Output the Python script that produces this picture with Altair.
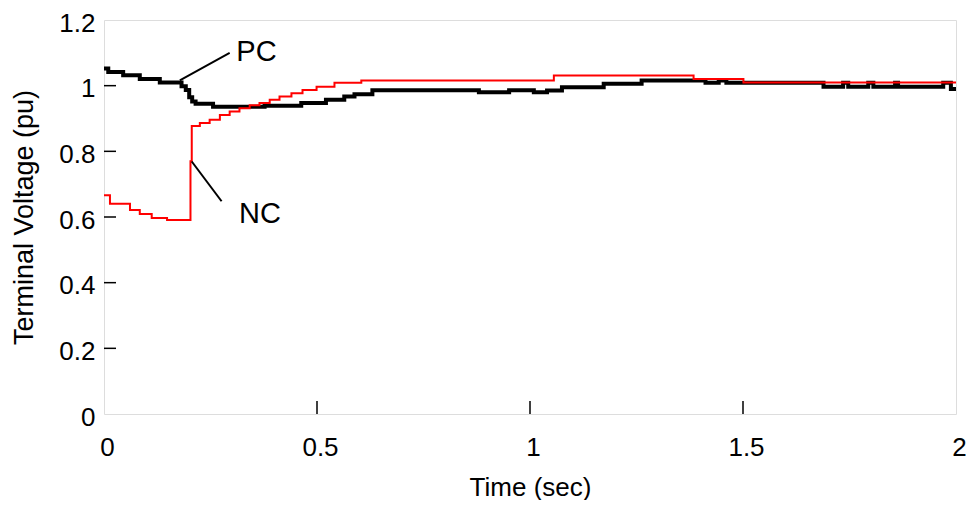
import altair as alt
import pandas as pd

# PC terminal voltage, step data (time sec, voltage pu)
pc_t = [0.0, 0.010, 0.045, 0.084, 0.131, 0.182, 0.192, 0.200, 0.207, 0.215, 0.256,
        0.377, 0.463, 0.521, 0.564, 0.588, 0.630, 0.880, 0.951, 1.009, 1.040, 1.075,
        1.173, 1.262, 1.412, 1.443, 1.461, 1.689, 1.735, 1.747, 1.794, 1.806, 1.857,
        1.864, 1.970, 1.988, 2.0]
pc_v = [1.052, 1.042, 1.032, 1.020, 1.010, 0.998, 0.987, 0.965, 0.952, 0.945, 0.936,
        0.939, 0.947, 0.957, 0.967, 0.974, 0.986, 0.980, 0.986, 0.980, 0.985, 0.995,
        1.006, 1.016, 1.009, 1.016, 1.009, 0.997, 1.009, 0.997, 1.009, 0.997, 1.009,
        0.997, 1.009, 0.990, 0.990]

# NC terminal voltage
nc_t = [0.0, 0.014, 0.061, 0.084, 0.112, 0.148, 0.200, 0.203, 0.206, 0.225, 0.248,
        0.272, 0.295, 0.318, 0.342, 0.365, 0.389, 0.412, 0.440, 0.466, 0.499, 0.541,
        0.604, 1.056, 1.384, 1.501, 2.0]
nc_v = [0.666, 0.640, 0.621, 0.609, 0.597, 0.591, 0.591, 0.770, 0.877, 0.886, 0.896,
        0.911, 0.921, 0.931, 0.940, 0.947, 0.957, 0.967, 0.977, 0.987, 0.997, 1.009,
        1.016, 1.031, 1.020, 1.010, 1.010]

x_ticks = [0, 0.5, 1, 1.5, 2]
y_ticks = [0, 0.2, 0.4, 0.6, 0.8, 1.0, 1.2]
x_inner_ticks = [0.5, 1, 1.5]
y_inner_ticks = [0.2, 0.4, 0.6, 0.8, 1.0]

# annotation labels and leader lines
ann_text = ["PC", "NC"]
ann_tx = [0.358, 0.366]
ann_tv = [1.103, 0.609]
lead_t = [0.178, 0.206]
lead_v = [1.016, 0.769]
lead_t2 = [0.295, 0.276]
lead_v2 = [1.100, 0.648]

FONT = "Liberation Sans Narrow, Arial Narrow, Liberation Sans, Arial"
W, H = 852, 394

pc = pd.DataFrame({"t": pc_t, "v": pc_v})
nc = pd.DataFrame({"t": nc_t, "v": nc_v})
ann = pd.DataFrame({"t": ann_tx, "v": ann_tv, "label": ann_text})
lead = pd.DataFrame({"t": lead_t, "v": lead_v, "t2": lead_t2, "v2": lead_v2})
xt = pd.DataFrame({"t": x_inner_ticks})
yt = pd.DataFrame({"v": y_inner_ticks})

xscale = alt.Scale(domain=[0, 2], nice=False, zero=False)
yscale = alt.Scale(domain=[0, 1.2], nice=False, zero=False)

xenc = alt.X("t:Q", scale=xscale, title="Time (sec)",
             axis=alt.Axis(values=x_ticks, format="~g", grid=False, ticks=False,
                           domain=False, labelFont=FONT, labelFontSize=26,
                           labelColor="black", labelPadding=20, labelOffset=3,
                           labelFlush=False, titleFont=FONT,
                           titleFontSize=26, titleFontWeight="normal",
                           titleColor="black", titlePadding=14))
yenc = alt.Y("v:Q", scale=yscale, title="Terminal Voltage (pu)",
             axis=alt.Axis(values=y_ticks, format="~g", grid=False, ticks=False,
                           domain=False, labelFont=FONT, labelFontSize=26,
                           labelColor="black", labelPadding=9, labelOffset=3,
                           labelFlush=False,
                           titleFont="Liberation Sans, Arial", titleFontSize=27,
                           titleFontWeight="normal", titleColor="black",
                           titlePadding=20))

pc_line = alt.Chart(pc).mark_line(interpolate="step-after", color="black",
                                  strokeWidth=4).encode(x=xenc, y=yenc)
nc_line = alt.Chart(nc).mark_line(interpolate="step-after", color="#ff0000",
                                  strokeWidth=2).encode(x="t:Q", y="v:Q")

xtick_marks = alt.Chart(xt).mark_rule(color="black", strokeWidth=1.5).encode(
    x="t:Q", y=alt.value(H), y2=alt.value(H - 13))
ytick_marks = alt.Chart(yt).mark_rule(color="black", strokeWidth=1.5).encode(
    y="v:Q", x=alt.value(0), x2=alt.value(12))

lead_marks = alt.Chart(lead).mark_rule(color="black", strokeWidth=2).encode(
    x="t:Q", y="v:Q", x2="t2:Q", y2="v2:Q")
ann_marks = alt.Chart(ann).mark_text(font=FONT, fontSize=29, color="black",
                                     align="center", baseline="middle").encode(
    x="t:Q", y="v:Q", text="label:N")

chart = alt.layer(pc_line, nc_line, xtick_marks, ytick_marks, lead_marks, ann_marks).properties(
    width=W, height=H,
    autosize=alt.AutoSizeParams(type="none"),
    padding={"left": 96, "top": 12, "right": 10, "bottom": 86},
).configure_view(stroke="black", strokeWidth=2).configure(background="white")

chart.save("out.html", embed_options={"renderer": "svg", "actions": False})
